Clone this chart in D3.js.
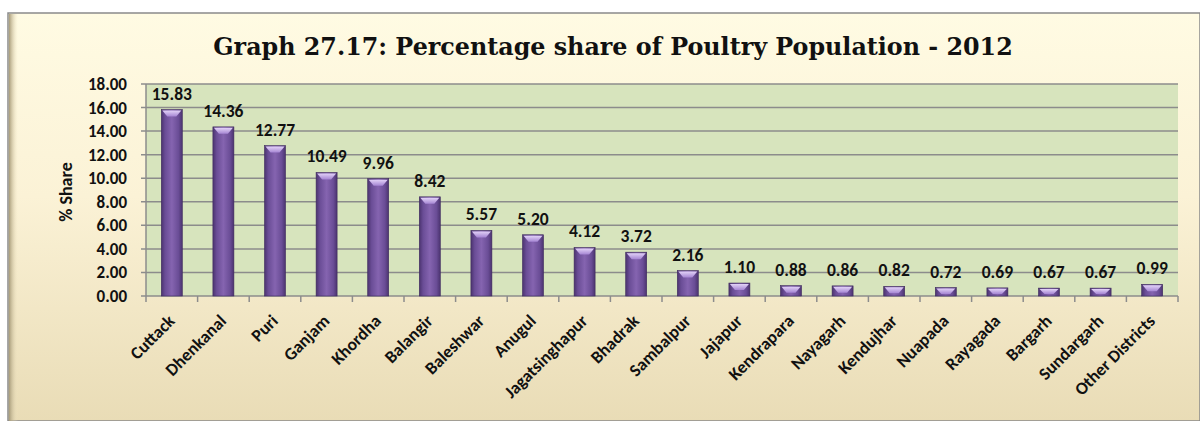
<!doctype html>
<html>
<head>
<style>
  body { margin: 0; background: #fff; }
  text { font-family: Carlito, "Open Sans", "Noto Sans", sans-serif; }
</style>
</head>
<body>
<div id="chart"></div>
<script src="https://d3js.org/d3.v7.min.js"></script>
<script>
// data
var districts = ["Cuttack", "Dhenkanal", "Puri", "Ganjam", "Khordha", "Balangir", "Baleshwar",
  "Anugul", "Jagatsinghapur", "Bhadrak", "Sambalpur", "Jajapur", "Kendrapara", "Nayagarh",
  "Kendujhar", "Nuapada", "Rayagada", "Bargarh", "Sundargarh", "Other Districts"];
var shares = [15.83, 14.36, 12.77, 10.49, 9.96, 8.42, 5.57, 5.20, 4.12, 3.72, 2.16,
  1.10, 0.88, 0.86, 0.82, 0.72, 0.69, 0.67, 0.67, 0.99];
var yTicks = [0, 2, 4, 6, 8, 10, 12, 14, 16, 18];
var title = "Graph 27.17: Percentage share of Poultry Population - 2012";

var W = 1200, H = 421;
var plot = {left: 146, top: 84, right: 1178, bottom: 296};

var svg = d3.select("#chart").append("svg")
    .attr("width", W)
    .attr("height", H);

var defs = svg.append("defs");

// outer background gradient
var bg = defs.append("linearGradient").attr("id", "bg")
    .attr("x1", 0).attr("y1", 0).attr("x2", 0).attr("y2", 1);
bg.append("stop").attr("offset", "0%").attr("stop-color", "#fffbe3");
bg.append("stop").attr("offset", "45%").attr("stop-color", "#fbf2d6");
bg.append("stop").attr("offset", "100%").attr("stop-color", "#e9dcb6");

var shade = defs.append("linearGradient").attr("id", "shade")
    .attr("x1", 0).attr("y1", 0).attr("x2", 1).attr("y2", 0);
shade.append("stop").attr("offset", "0%").attr("stop-color", "#a89c7a");
shade.append("stop").attr("offset", "100%").attr("stop-color", "#f3e8c6").attr("stop-opacity", 0);

// bar body gradient
var bar = defs.append("linearGradient").attr("id", "barGrad")
    .attr("x1", 0).attr("y1", 0).attr("x2", 1).attr("y2", 0);
bar.append("stop").attr("offset", "0%").attr("stop-color", "#4b336f");
bar.append("stop").attr("offset", "18%").attr("stop-color", "#6a4d96");
bar.append("stop").attr("offset", "50%").attr("stop-color", "#8564b0");
bar.append("stop").attr("offset", "82%").attr("stop-color", "#6a4d96");
bar.append("stop").attr("offset", "100%").attr("stop-color", "#4b336f");

var cap = defs.append("linearGradient").attr("id", "capGrad")
    .attr("x1", 0).attr("y1", 0).attr("x2", 0).attr("y2", 1);
cap.append("stop").attr("offset", "0%").attr("stop-color", "#e2d2f7");
cap.append("stop").attr("offset", "100%").attr("stop-color", "#a585d3");

// frame
svg.append("rect")
    .attr("x", 8).attr("y", 13)
    .attr("width", W - 8).attr("height", H - 13)
    .attr("fill", "url(#bg)")
    .attr("stroke", "#8a8a8a")
    .attr("stroke-width", 1.5);
svg.append("rect")
    .attr("x", 9).attr("y", 14)
    .attr("width", 9).attr("height", H - 14)
    .attr("fill", "url(#shade)");

// title
svg.append("text")
    .attr("x", 613)
    .attr("y", 55)
    .attr("text-anchor", "middle")
    .style("font-family", "'DejaVu Serif', 'Liberation Serif', serif")
    .style("font-weight", "bold")
    .style("font-size", "23.8px")
    .attr("fill", "#111")
    .text(title);

// scales
var x = d3.scaleBand()
    .domain(districts)
    .range([plot.left, plot.right])
    .paddingInner(0.6)
    .paddingOuter(0.3);

var y = d3.scaleLinear()
    .domain([0, 18])
    .range([plot.bottom, plot.top]);

// plot area
svg.append("rect")
    .attr("x", plot.left).attr("y", plot.top)
    .attr("width", plot.right - plot.left)
    .attr("height", plot.bottom - plot.top)
    .attr("fill", "#d7e4bd");

// gridlines
svg.append("g")
    .selectAll("line")
    .data(yTicks)
    .enter().append("line")
    .attr("x1", plot.left - 5).attr("x2", plot.right)
    .attr("y1", function(d) { return y(d); })
    .attr("y2", function(d) { return y(d); })
    .attr("stroke", "#8c8c8c")
    .attr("stroke-width", 1.5);

// y axis line
svg.append("line")
    .attr("x1", plot.left).attr("x2", plot.left)
    .attr("y1", plot.top).attr("y2", plot.bottom)
    .attr("stroke", "#8c8c8c").attr("stroke-width", 1.5);

// x axis ticks at category boundaries
var bounds = d3.range(districts.length + 1).map(function(i) { return plot.left + i * (plot.right - plot.left) / districts.length; });
svg.append("g")
    .selectAll("line")
    .data(bounds)
    .enter().append("line")
    .attr("x1", function(d) { return d; })
    .attr("x2", function(d) { return d; })
    .attr("y1", plot.bottom)
    .attr("y2", plot.bottom + 6)
    .attr("stroke", "#8c8c8c")
    .attr("stroke-width", 1.5);

// y labels
svg.append("g")
    .selectAll("text")
    .data(yTicks)
    .enter().append("text")
    .attr("x", plot.left - 19)
    .attr("y", function(d) { return y(d) + 6; })
    .attr("text-anchor", "end")
    .style("font-weight", "bold")
    .style("font-size", "17px")
    .attr("fill", "#111")
    .text(function(d) { return d.toFixed(2); });

svg.append("text")
    .attr("transform", "translate(72,192) rotate(-90)")
    .attr("text-anchor", "middle")
    .style("font-weight", "bold")
    .style("font-size", "18px")
    .attr("fill", "#111")
    .text("% Share");

// bars
var bw = 21;
var bars = svg.append("g")
    .selectAll("g")
    .data(districts)
    .enter().append("g");

function cx(d) { return x(d) + x.bandwidth() / 2; }

bars.append("rect")
    .attr("x", function(d) { return cx(d) - bw / 2; })
    .attr("y", function(d, i) { return y(shares[i]); })
    .attr("width", bw)
    .attr("height", function(d, i) { return plot.bottom - y(shares[i]); })
    .attr("fill", "url(#barGrad)")
    .attr("stroke", "#3f2a5e")
    .attr("stroke-width", 0.6);

bars.append("path")
    .attr("d", function(d, i) {
        var c = cx(d), t = y(shares[i]);
        var h = Math.min(7, plot.bottom - t - 2);
        return "M" + (c - bw / 2 + 1) + "," + (t + 1) +
               "L" + (c + bw / 2 - 1) + "," + (t + 1) +
               "L" + (c + bw / 2 - 6) + "," + (t + h) +
               "L" + (c - bw / 2 + 6) + "," + (t + h) + "Z";
    })
    .attr("fill", "url(#capGrad)");

// value labels
svg.append("g")
    .selectAll("text")
    .data(districts)
    .enter().append("text")
    .attr("x", function(d) { return cx(d); })
    .attr("y", function(d, i) { return y(shares[i]) - 10; })
    .attr("text-anchor", "middle")
    .style("font-weight", "bold")
    .style("font-size", "17.5px")
    .attr("fill", "#111")
    .text(function(d, i) { return shares[i].toFixed(2); });

// category labels
svg.append("g")
    .selectAll("text")
    .data(districts)
    .enter().append("text")
    .attr("transform", function(d) { return "translate(" + (cx(d) + 4) + "," + (plot.bottom + 26) + ") rotate(-45)"; })
    .attr("text-anchor", "end")
    .style("font-weight", "bold")
    .style("font-size", "17.5px")
    .attr("fill", "#111")
    .text(function(d) { return d; });
</script>
</body>
</html>
